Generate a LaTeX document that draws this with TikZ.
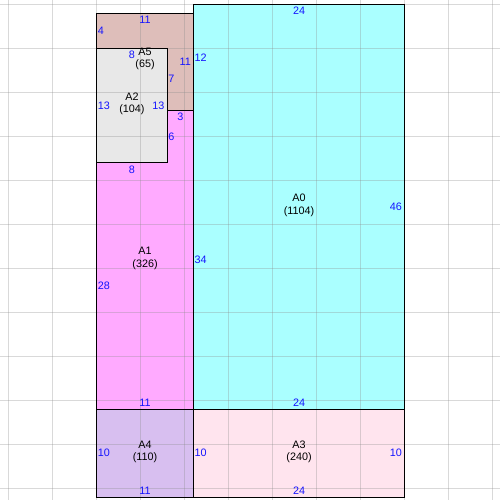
\documentclass[tikz,border=0pt]{standalone}
\usepackage{fontspec}
\setmainfont{Liberation Sans}
\definecolor{cA0}{RGB}{170,255,255}
\definecolor{cA1}{RGB}{255,170,255}
\definecolor{cA2}{RGB}{232,232,232}
\definecolor{cA3}{RGB}{255,228,238}
\definecolor{cA4}{RGB}{216,191,240}
\definecolor{cA5}{RGB}{222,190,186}
\definecolor{numblue}{RGB}{20,20,255}
\begin{document}
\begin{tikzpicture}[x=8.8pt,y=8.8pt,
  outline/.style={draw=black, line width=1.1pt, line join=miter},
  gridline/.style={draw=black!45, draw opacity=0.33, line width=1pt},
  lenlbl/.style={text=numblue, font=\fontsize{10.8}{12}\selectfont, inner sep=0pt},
  lw/.style={lenlbl, anchor=west, inner xsep=1pt},
  le/.style={lenlbl, anchor=east, inner xsep=2.5pt},
  lt/.style={lenlbl, anchor=north, inner ysep=2.5pt},
  lb/.style={lenlbl, anchor=south, inner ysep=2.5pt},
  rname/.style={font=\fontsize{10.8}{12.6}\selectfont, align=center, text=black, inner sep=0pt}]
\useasboundingbox (-10.989,-0.307) rectangle (45.83,56.51);
% fills
\fill[cA0] (11,10) rectangle (35,56);
\fill[cA3] (11,0) rectangle (35,10);
\fill[cA4] (0,0) rectangle (11,10);
\fill[cA1] (0,10) -- (11,10) -- (11,44) -- (8,44) -- (8,38) -- (0,38) -- cycle;
\fill[cA2] (0,38) rectangle (8,51);
\fill[cA5] (0,51) -- (8,51) -- (8,44) -- (11,44) -- (11,55) -- (0,55) -- cycle;
% grid
\foreach \gx in {-10,-5,...,45} \draw[gridline] (\gx,-1) -- (\gx,57);
\foreach \gy in {1,6,...,56} \draw[gridline] (-11,\gy) -- (46,\gy);
% outlines
\draw[outline] (11,10) rectangle (35,56);
\draw[outline] (11,0) rectangle (35,10);
\draw[outline] (0,0) rectangle (11,10);
\draw[outline] (0,10) -- (11,10) -- (11,44) -- (8,44) -- (8,38) -- (0,38) -- cycle;
\draw[outline] (0,38) rectangle (8,51);
\draw[outline] (0,51) -- (8,51) -- (8,44) -- (11,44) -- (11,55) -- (0,55) -- cycle;
% region names
\node[rname] (nA0) at (23,33.18) {A0\\(1104)};
\node[rname] (nA1) at (5.5,27.15) {A1\\(326)};
\node[rname] (nA2) at (4,44.7) {A2\\(104)};
\node[rname] (nA3) at (23,5.15) {A3\\(240)};
\node[rname] (nA4) at (5.5,5.15) {A4\\(110)};
\node[rname] (nA5) at (5.5,49.8) {A5\\(65)};
% A0 edge lengths
\node[lt] (a0t) at (23,56) {24};
\node[lb] (a0b) at (23,10) {24};
\node[lw] (a0l1) at (11,50) {12};
\node[lw] (a0l2) at (11,27) {34};
\node[le] (a0r) at (35,33) {46};
% A3
\node[lw] (a3l) at (11,5) {10};
\node[le] (a3r) at (35,5) {10};
\node[lb] (a3b) at (23,0) {24};
% A4
\node[lw] (a4l) at (0,5) {10};
\node[lb] (a4b) at (5.5,0) {11};
% A1
\node[lw] (a1l) at (0,24) {28};
\node[lb] (a1b) at (5.5,10) {11};
\node[lt] (a1t1) at (4,38) {8};
\node[lw] (a1v) at (8,41) {6};
\node[lt] (a1t2) at (9.5,44) {3};
% A2
\node[lw] (a2l) at (0,44.5) {13};
\node[le] (a2r) at (8,44.5) {13};
\node[lt] (a2t) at (4,51) {8};
% A5
\node[lt] (a5t) at (5.5,55) {11};
\node[lw] (a5l) at (0,53) {4};
\node[le] (a5r) at (11,49.5) {11};
\node[lw] (a5v) at (8,47.5) {7};
\end{tikzpicture}
\end{document}
